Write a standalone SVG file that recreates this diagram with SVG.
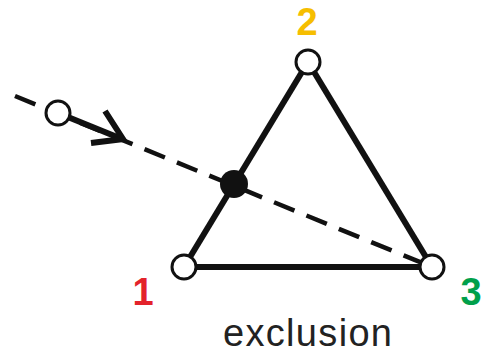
<svg xmlns="http://www.w3.org/2000/svg" width="485" height="354" viewBox="0 0 485 354">
<style>
.edge{stroke:#111;stroke-width:6;fill:none;stroke-linecap:butt}
.dash{stroke:#111;stroke-width:4.5;fill:none;stroke-dasharray:22 13}
.node{fill:#fff;stroke:#111;stroke-width:3}
.num{font-family:"Liberation Sans",Arial,sans-serif;font-weight:bold;font-size:38px;text-anchor:middle}
.lbl{font-family:"Liberation Sans",Arial,sans-serif;font-size:38px;fill:#222}
</style>
<rect width="485" height="354" fill="#fff"/>
<g id="connectors">
<line class="edge" x1="184" y1="267" x2="308" y2="62"/>
<line class="edge" x1="308" y1="62" x2="432" y2="267"/>
<line class="edge" x1="184" y1="267" x2="432" y2="267"/>
<line class="dash" x1="15" y1="96" x2="432" y2="267"/>
<line class="edge" x1="58" y1="113" x2="122" y2="139"/>
<polyline class="edge" points="105,111 123,139 91,143"/>
</g>
<g id="node-start"><circle class="node" cx="58" cy="113" r="12"/></g>
<g id="node-x"><circle cx="234" cy="184" r="14" fill="#111"/></g>
<g id="node-1"><circle class="node" cx="184" cy="267" r="12"/><text class="num" x="143" y="305" fill="#E3232B">1</text></g>
<g id="node-2"><circle class="node" cx="308" cy="62" r="12"/><text class="num" x="307" y="35" fill="#F6BE00">2</text></g>
<g id="node-3"><circle class="node" cx="432" cy="267" r="12"/><text class="num" x="471" y="305" fill="#00A04A">3</text></g>
<g id="label"><text class="lbl" x="223" y="346" textLength="169" lengthAdjust="spacing">exclusion</text></g>
</svg>
